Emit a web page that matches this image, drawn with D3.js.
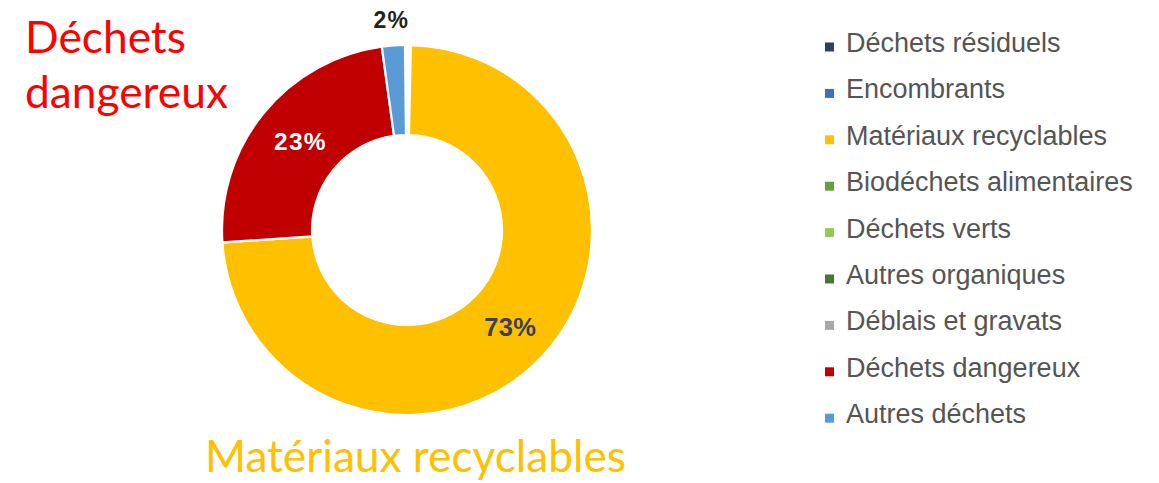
<!DOCTYPE html>
<html><head><meta charset="utf-8">
<script src="https://cdn.jsdelivr.net/npm/d3@7"></script>
<style>html,body{margin:0;padding:0;background:#fff;}svg{display:block;}</style>
</head><body>
<svg id="chart" width="1159" height="483"></svg>
<script>
// ---- data ----
const categories = ["Déchets résiduels","Encombrants","Matériaux recyclables","Biodéchets alimentaires","Déchets verts","Autres organiques","Déblais et gravats","Déchets dangereux","Autres déchets"];
const shares = [0, 0, 73.6, 0, 0, 0, 0, 23.9, 2.0];
const shareLabels = ["", "", "73%", "", "", "", "", "23%", "2%"];
const colors = ["#2f4154","#3d6fc0","#ffc000","#62a140","#8fcc50","#3f7a30","#a8a8a8","#c00000","#5b9bd5"];
const calloutTop = ["Déchets", "dangereux"];
const calloutBottom = "Matériaux recyclables";

const svg = d3.select("#chart");
const cx = 407, cy = 230, rOuter = 185, rInner = 95;

const data = categories.map((c,i)=>({name:c, value:shares[i], label:shareLabels[i], color:colors[i]}));
const pie = d3.pie().value(d=>d.value).sort(null)
  .startAngle(0.021).endAngle(2*Math.PI - 0.011);
const arcs = pie(data).filter(d=>d.data.value>0);
const arc = d3.arc().innerRadius(rInner).outerRadius(rOuter);
const labelArc = d3.arc().innerRadius(rInner).outerRadius(rOuter);
const outArc = d3.arc().innerRadius(211).outerRadius(211);

const g = svg.append("g").attr("transform",`translate(${cx},${cy})`);
g.selectAll("path").data(arcs).join("path")
  .attr("d",arc).attr("fill",d=>d.data.color)
  .attr("stroke","#fff").attr("stroke-width",2.2);

g.selectAll("text.pct").data(arcs).join("text")
  .attr("class","pct")
  .attr("transform",d=>{
    const small = (d.endAngle-d.startAngle) < 0.3;
    const p = small ? outArc.centroid(d) : labelArc.centroid(d);
    return `translate(${p[0]+ (small?0:2)},${p[1]})`;
  })
  .attr("text-anchor","middle").attr("dy","0.36em")
  .attr("font-family","Liberation Sans, Arial, sans-serif")
  .attr("font-weight","bold")
  .attr("font-size",d=> d.data.value>50?25.5:(d.data.value>10?24.5:23))
  .attr("letter-spacing",d=> d.data.value>50?0.3:1.2)
  .attr("fill",d=> d.data.color==="#c00000" ? "#ffffff" : (d.data.value>50 ? "#3b4058" : "#222"))
  .text(d=>d.data.label);

// legend
const lx = 825, ly0 = 52, lstep = 46.4;
const lg = svg.append("g");
const rows = lg.selectAll("g").data(data).join("g")
  .attr("transform",(d,i)=>`translate(${lx},${ly0 + i*lstep})`);
rows.append("rect").attr("x",0).attr("y",-9.5).attr("width",9).attr("height",9)
  .attr("fill",d=>d.color);
rows.append("text").attr("x",21).attr("y",0)
  .attr("font-family","Liberation Sans, Arial, sans-serif")
  .attr("font-size",27).attr("fill","#555")
  .text(d=>d.name);

// callouts
function fitText(sel, target){
  const w = sel.node().getComputedTextLength();
  const fs = parseFloat(sel.attr("font-size"));
  sel.attr("font-size", fs*target/w);
}
const c1 = svg.append("text").attr("x",25).attr("y",53)
  .attr("font-family","Lato, 'Open Sans', sans-serif").attr("font-size",36)
  .attr("fill","#ff0000").text(calloutTop[0]);
const c2 = svg.append("text").attr("x",25).attr("y",108)
  .attr("font-family","Lato, 'Open Sans', sans-serif").attr("font-size",36)
  .attr("fill","#ff0000").text(calloutTop[1]);
fitText(c2, 203);
c1.attr("font-size", c2.attr("font-size"));
const c3 = svg.append("text").attr("x",205).attr("y",472)
  .attr("font-family","Lato, 'Open Sans', sans-serif").attr("font-size",38)
  .attr("fill","#ffc000").text(calloutBottom);
fitText(c3, 421);
</script>
</body></html>
